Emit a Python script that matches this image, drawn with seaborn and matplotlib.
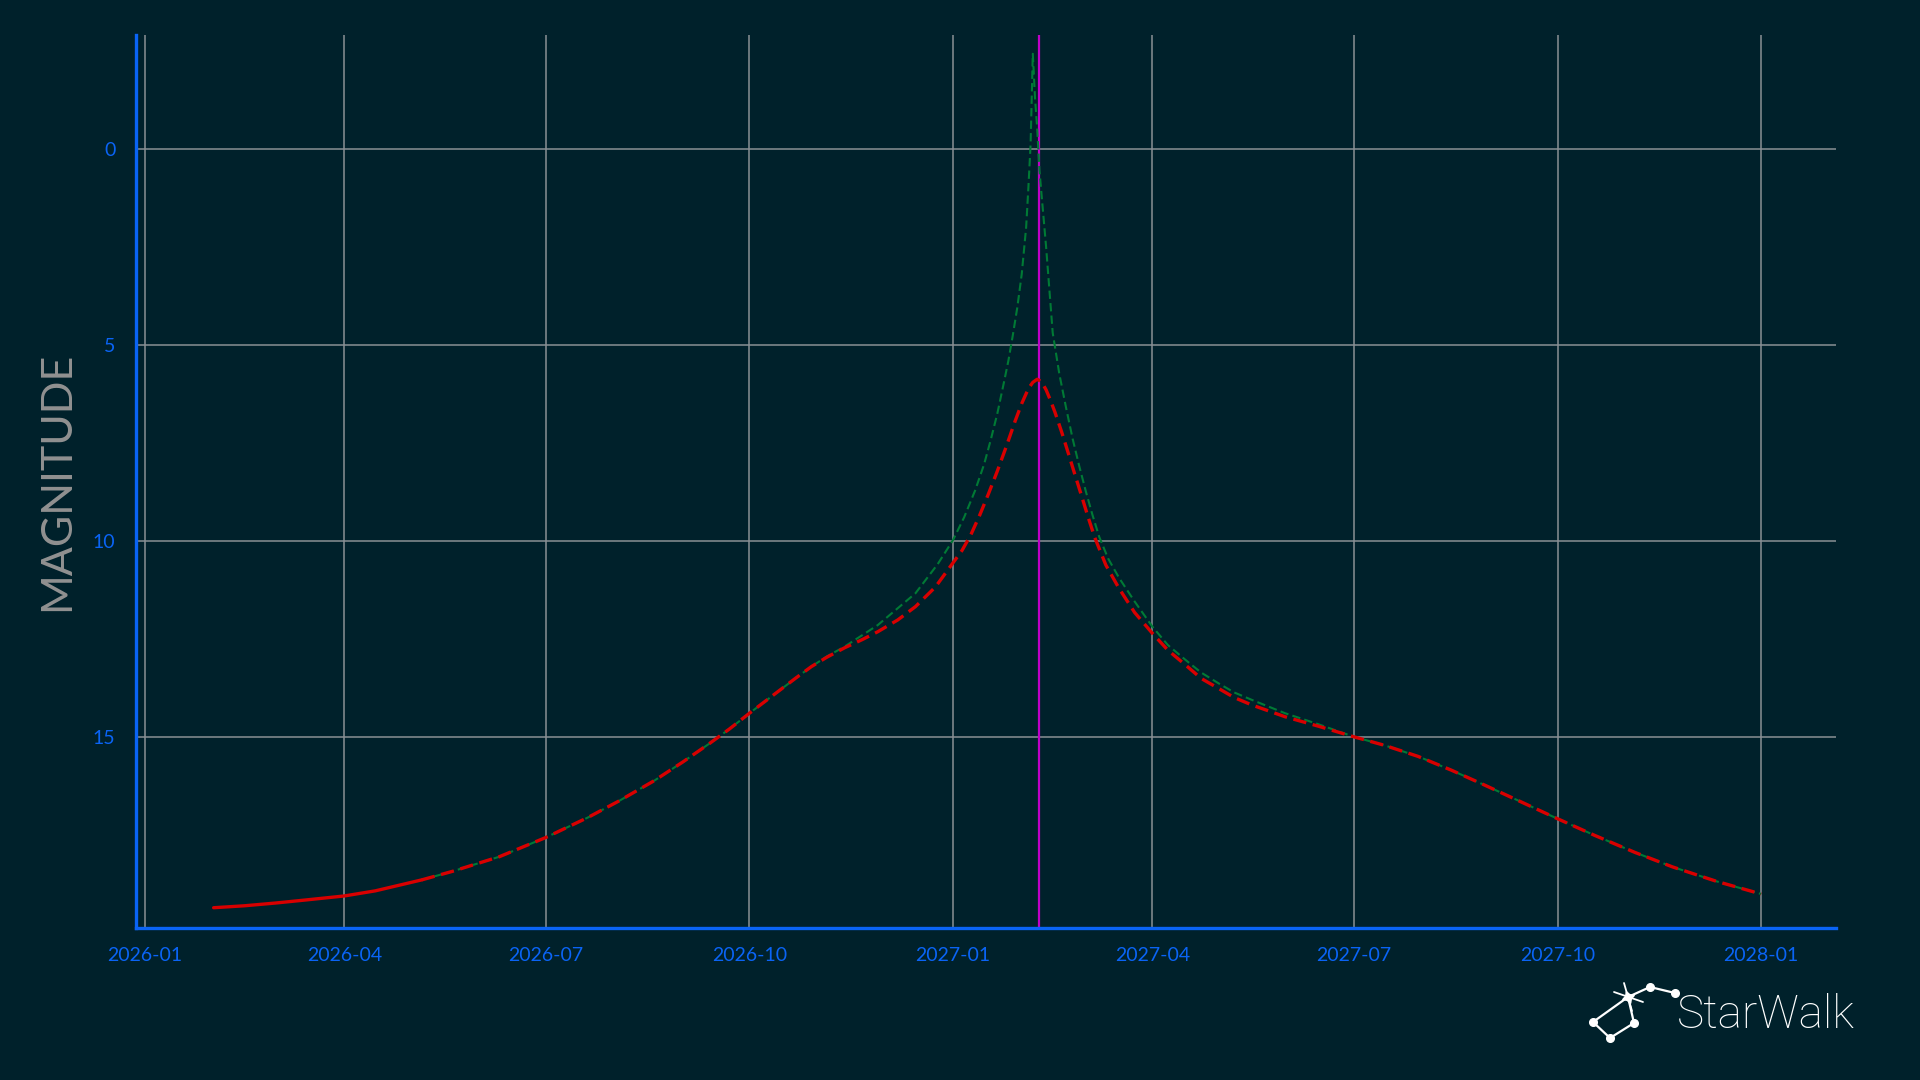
import pandas as pd
import numpy as np
import matplotlib
matplotlib.use("Agg")
import matplotlib.pyplot as plt
import matplotlib.dates as mdates
from matplotlib.lines import Line2D
import seaborn as sns

# ---------------------------------------------
# data
# ---------------------------------------------
# observed part of the light curve (solid red)
obs_dates = ["2026-02-01", "2026-02-15", "2026-03-01", "2026-03-15",
             "2026-04-01", "2026-04-15", "2026-05-06"]
obs_mag = [19.36, 19.31, 19.24, 19.16, 19.06, 18.93, 18.65]

# predicted magnitude (red dashed)
pred_dates = [
    "2026-05-06", "2026-05-20", "2026-06-10", "2026-07-01", "2026-07-20",
    "2026-08-03", "2026-08-19", "2026-09-01", "2026-09-13", "2026-09-22",
    "2026-10-01", "2026-10-15", "2026-10-22", "2026-10-29", "2026-11-05",
    "2026-11-13", "2026-11-21", "2026-11-28", "2026-12-07", "2026-12-15",
    "2026-12-24", "2027-01-01", "2027-01-05", "2027-01-09", "2027-01-13",
    "2027-01-17", "2027-01-21", "2027-01-25", "2027-01-29", "2027-02-01",
    "2027-02-04", "2027-02-06", "2027-02-08", "2027-02-10", "2027-02-12",
    "2027-02-14", "2027-02-16", "2027-02-19", "2027-02-22", "2027-02-25",
    "2027-02-28", "2027-03-03", "2027-03-06", "2027-03-11", "2027-03-17",
    "2027-03-24", "2027-04-01", "2027-04-08", "2027-04-16", "2027-04-23",
    "2027-05-01", "2027-05-08", "2027-05-16", "2027-05-31", "2027-06-15",
    "2027-07-01", "2027-07-15", "2027-07-30", "2027-08-14", "2027-08-29",
    "2027-09-13", "2027-10-01", "2027-10-18", "2027-11-05", "2027-11-22",
    "2027-12-12", "2028-01-01",
]
pred_mag = [
    18.65, 18.43, 18.06, 17.57, 17.06,
    16.64, 16.12, 15.64, 15.17, 14.80,
    14.40, 13.80, 13.50, 13.21, 12.97,
    12.73, 12.52, 12.32, 12.02, 11.68,
    11.18, 10.56, 10.25, 9.85, 9.35,
    8.80, 8.22, 7.60, 6.95, 6.50,
    6.12, 5.96, 5.88, 5.95, 6.15,
    6.42, 6.72, 7.22, 7.76, 8.31,
    8.85, 9.40, 9.92, 10.62, 11.22,
    11.83, 12.36, 12.79, 13.17, 13.51,
    13.77, 14.00, 14.19, 14.49, 14.73,
    15.00, 15.22, 15.50, 15.85, 16.23,
    16.62, 17.09, 17.52, 17.95, 18.32,
    18.69, 19.01,
]

# alternative prediction (green dashed)
alt_dates = [
    "2026-05-06", "2026-05-20", "2026-06-10", "2026-07-01", "2026-07-20",
    "2026-08-03", "2026-08-19", "2026-09-01", "2026-09-13", "2026-09-22",
    "2026-10-01", "2026-10-15", "2026-10-22", "2026-10-29", "2026-11-05",
    "2026-11-13", "2026-11-28", "2026-12-15", "2026-12-25", "2027-01-01",
    "2027-01-06", "2027-01-11", "2027-01-15", "2027-01-18", "2027-01-21",
    "2027-01-24", "2027-01-26", "2027-01-28", "2027-01-30", "2027-02-01",
    "2027-02-03", "2027-02-04", "2027-02-05", "2027-02-06", "2027-02-07",
    "2027-02-08", "2027-02-09", "2027-02-10", "2027-02-12", "2027-02-15",
    "2027-02-18", "2027-02-21", "2027-02-24", "2027-02-27", "2027-03-02",
    "2027-03-05", "2027-03-08", "2027-03-12", "2027-03-17", "2027-03-24",
    "2027-04-01", "2027-04-08", "2027-04-16", "2027-04-23", "2027-05-01",
    "2027-05-08", "2027-05-16", "2027-05-31", "2027-06-15", "2027-07-01",
    "2027-07-15", "2027-07-30", "2027-08-14", "2027-08-29", "2027-09-13",
    "2027-10-01", "2027-10-18", "2027-11-05", "2027-11-22", "2027-12-12",
    "2028-01-01",
]
alt_mag = [
    18.65, 18.43, 18.06, 17.57, 17.06,
    16.64, 16.12, 15.64, 15.17, 14.80,
    14.40, 13.80, 13.50, 13.21, 12.95,
    12.70, 12.15, 11.34, 10.60, 9.98,
    9.40, 8.71, 8.05, 7.43, 6.75,
    5.95, 5.40, 4.75, 4.05, 3.20,
    2.00, 1.00, -0.10, -2.42, -1.30,
    -0.50, 0.55, 1.20, 2.50, 4.70,
    5.75, 6.60, 7.40, 8.10, 8.75,
    9.35, 9.90, 10.45, 10.95, 11.55,
    12.19, 12.66, 13.04, 13.36, 13.64,
    13.87, 14.06, 14.40, 14.68, 15.00,
    15.22, 15.50, 15.85, 16.23, 16.62,
    17.09, 17.52, 17.95, 18.32, 18.69,
    19.01,
]

perihelion = "2027-02-09"
x_ticks = ["2026-01-01", "2026-04-01", "2026-07-01", "2026-10-01", "2027-01-01",
           "2027-04-01", "2027-07-01", "2027-10-01", "2028-01-01"]
y_ticks = [0, 5, 10, 15]

# ---------------------------------------------
# style
# ---------------------------------------------
BG = "#00212b"
BLUE = "#0a64f5"
GRID = "#8a9094"
RED = "#d80000"
GREEN = "#007a35"
PURPLE = "#c000c8"

sns.set_style("dark", {"axes.facecolor": BG, "figure.facecolor": BG})
plt.rcParams["font.family"] = ["Lato", "DejaVu Sans"]

df_obs = pd.DataFrame({"date": pd.to_datetime(obs_dates), "mag": obs_mag})
df_pred = pd.DataFrame({"date": pd.to_datetime(pred_dates), "mag": pred_mag})
df_alt = pd.DataFrame({"date": pd.to_datetime(alt_dates), "mag": alt_mag})

fig = plt.figure(figsize=(19.2, 10.8), dpi=100, facecolor=BG)
ax = fig.add_axes([0.0709, 0.141, 0.8856, 0.8266])
ax.set_facecolor(BG)

# grid first, then the perihelion marker
ax.grid(True, color=GRID, linewidth=1.1, zorder=0)
ax.set_axisbelow(True)
ax.axvline(pd.Timestamp(perihelion), color=PURPLE, linewidth=1.6, zorder=1)

sns.lineplot(data=df_alt, x="date", y="mag", ax=ax, color=GREEN,
             linewidth=1.5, linestyle=(0, (4, 2)), errorbar=None, zorder=2)
sns.lineplot(data=df_pred, x="date", y="mag", ax=ax, color=RED,
             linewidth=2.4, linestyle=(0, (4, 2)), errorbar=None, zorder=3)
sns.lineplot(data=df_obs, x="date", y="mag", ax=ax, color=RED,
             linewidth=2.4, errorbar=None, zorder=3)

ax.set_xlim(pd.Timestamp("2025-12-28"), pd.Timestamp("2028-02-04"))
ax.set_ylim(19.87, -2.9)

ax.set_xticks(pd.to_datetime(x_ticks))
ax.xaxis.set_major_formatter(mdates.DateFormatter("%Y-%m"))
ax.set_yticks(y_ticks)

ax.tick_params(axis="both", colors=BLUE, labelcolor=BLUE, labelsize=14,
               length=10, width=2.2, direction="out", pad=5)
ax.tick_params(axis="x", pad=4)

for side in ["top", "right"]:
    ax.spines[side].set_visible(False)
for side in ["left", "bottom"]:
    ax.spines[side].set_visible(True)
    ax.spines[side].set_color(BLUE)
    ax.spines[side].set_linewidth(2.4)

ax.set_xlabel("")
ax.set_ylabel("MAGNITUDE", color="#919191", fontsize=31, fontweight="normal")
ax.yaxis.set_label_coords(-0.0355, 0.5)

# ---------------------------------------------
# StarWalk logo (bottom right)
# ---------------------------------------------
def fx(px):
    return px / 1920

def fy(py):
    return 1 - py / 1080

pts = {"A": (1593, 1022), "B": (1610, 1038), "C": (1634, 1023),
       "S": (1628, 997), "D": (1650, 987), "E": (1675, 993)}
for a, b in [("A", "S"), ("A", "B"), ("B", "C"), ("C", "S"), ("S", "D"), ("D", "E")]:
    fig.add_artist(Line2D([fx(pts[a][0]), fx(pts[b][0])],
                          [fy(pts[a][1]), fy(pts[b][1])],
                          color="white", linewidth=1.6, transform=fig.transFigure))
for k in ["A", "B", "C", "D", "E"]:
    fig.add_artist(Line2D([fx(pts[k][0])], [fy(pts[k][1])], marker="o",
                          markersize=5.5, color="white", transform=fig.transFigure))
# sparkle for the bright star
for (x0, y0), (x1, y1) in [((1614, 992), (1643, 1002)), ((1624, 983), (1632, 1011))]:
    fig.add_artist(Line2D([fx(x0), fx(x1)], [fy(y0), fy(y1)], color="white",
                          linewidth=1.3, transform=fig.transFigure))
fig.add_artist(Line2D([fx(1628)], [fy(997)], marker=(4, 1, 20), markersize=9,
                      color="white", transform=fig.transFigure))
fig.text(fx(1677), fy(1028), "StarWalk", color="white", fontsize=33,
         family=["Roboto", "DejaVu Sans"], fontweight="light",
         ha="left", va="baseline")

fig.savefig("out.png", dpi=100, facecolor=BG)
